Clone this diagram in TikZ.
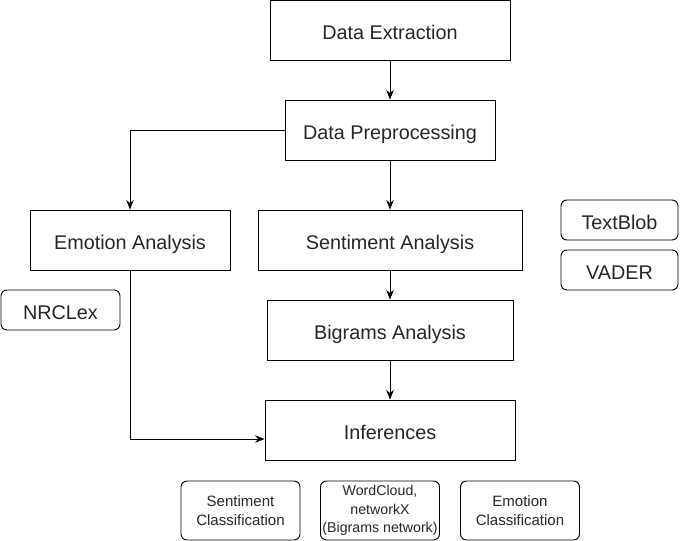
\documentclass[tikz,border=0pt]{standalone}
\usepackage{fontspec}
\setmainfont{Liberation Sans}
\usetikzlibrary{arrows.meta}
\begin{document}
\begin{tikzpicture}[x=1pt,y=1pt,
  box/.style={draw,line width=0.9pt,inner sep=0pt,font=\fontsize{19.8}{23}\selectfont,text=black!85,text height=20pt,text depth=2pt},
  tool/.style={box,rounded corners=6pt},
  small/.style={draw,line width=0.9pt,inner sep=0pt,rounded corners=6pt,text=black!85,font=\fontsize{15}{19}\selectfont,align=center,minimum width=119,minimum height=59},
  arr/.style={-{Stealth[length=9.5pt,width=7.5pt]},line width=0.9pt}]
\useasboundingbox (0,0) rectangle (681,-541);
\node[box,minimum width=240,minimum height=60] (ext) at (390,-30) {Data Extraction};
\node[box,minimum width=210,minimum height=60] (pre) at (390,-130) {Data Preprocessing};
\node[box,minimum width=200,minimum height=60] (emo) at (130,-240) {Emotion Analysis};
\node[box,minimum width=264,minimum height=60] (sen) at (390,-240) {Sentiment Analysis};
\node[box,minimum width=246,minimum height=60] (big) at (390,-330) {Bigrams Analysis};
\node[box,minimum width=250,minimum height=60] (inf) at (390,-430) {Inferences};
\node[tool,minimum width=117,minimum height=40] (tb) at (619.5,-220) {TextBlob};
\node[tool,minimum width=117,minimum height=40] (vad) at (619.5,-270) {VADER};
\node[tool,minimum width=119,minimum height=40] (nrc) at (60.5,-310) {NRCLex};
\node[small] (sc) at (240.5,-510.5) {Sentiment\\Classification};
\node[small,font=\fontsize{14.2}{18.5}\selectfont] (wc) at (380,-510.5) {WordCloud,\\networkX\\(Bigrams network)};
\node[small] (ec) at (520,-510.5) {Emotion\\Classification};
\draw[arr] (ext) -- (pre);
\draw[arr] (pre) -- (sen);
\draw[arr] (pre.west) -| (emo.north);
\draw[arr] (sen) -- (big);
\draw[arr] (big) -- (inf);
\draw[arr] (emo.south) |- ([yshift=-9pt]inf.west);
\end{tikzpicture}
\end{document}
